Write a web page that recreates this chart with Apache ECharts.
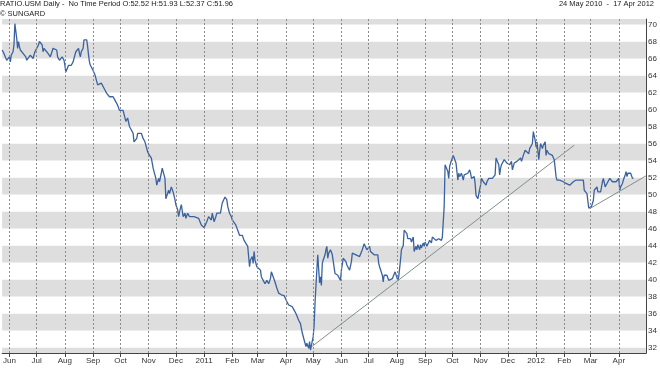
<!DOCTYPE html>
<html><head><meta charset="utf-8">
<script src="https://cdn.jsdelivr.net/npm/echarts@6/dist/echarts.min.js"></script>
<style>html,body{margin:0;padding:0;background:#fff}#c{width:660px;height:368px}</style>
</head><body><div id="c"></div>
<script>
// ---- data ----
const baseDate = [2010, 6, 1]; // day offsets are counted from 1 Jun 2010
const dayOffsets = [
-8,-6,-4,-3,-1,0,1,2,4,5,6,7,8,9,10,11,12,14,15,17,18,19,21,23,25,26,27,28,30,31,32,33,35,36,37,38,39,41,43,45,47,48,50,52,53,55,56,58,59,60,61,62,64,65,67,68,70,72,73,75,76,77,78,79,81,82,84,85,86,87,88,89,90,92,94,95,97,98,99,101,103,105,107,108,110,112,114,116,118,119,121,123,125,127,128,129,130,132,134,136,137,138,140,141,143,145,147,149,150,152,154,156,158,159,161,162,164,165,167,168,170,171,
172,174,175,176,178,179,180,182,183,185,186,188,189,190,191,193,194,196,198,200,203,205,208,209,211,214,216,217,219,220,222,223,225,227,228,230,232,234,236,237,239,240,242,244,245,247,249,251,253,255,256,258,260,262,263,264,265,267,268,269,270,272,274,276,277,279,281,283,285,287,288,290,292,294,296,297,299,302,304,305,307,309,311,313,315,316,318,320,322,324,325,326,327,329,330,331,333,334,335,336,337,338,339,340,341,342,343,344,345,347,348,349,
350,351,353,355,356,358,359,361,363,364,365,367,368,370,371,373,374,376,377,379,381,383,385,386,388,389,390,392,393,394,396,397,399,401,403,405,406,407,409,410,411,412,414,415,417,419,421,423,424,425,426,427,428,430,431,433,434,435,437,438,439,441,442,444,445,447,448,449,451,452,453,455,456,457,459,461,462,464,465,467,469,470,472,473,475,476,478,479,481,482,483,484,485,486,487,488,489,490,491,492,493,494,495,497,499,500,502,504,506,507,508,510,511,512,513,
515,517,518,519,521,522,524,525,527,529,531,533,534,535,536,538,539,540,541,543,544,546,547,549,550,552,553,555,557,558,560,562,563,565,567,568,569,571,572,574,575,576,578,579,580,581,582,583,584,586,587,589,590,591,593,595,597,599,600,601,602,604,605,607,609,611,612,614,616,618,620,621,623,625,627,629,631,632,633,635,636,637,638,639,640,642,643,644,646,647,649,650,652,653,654,655,657,658,660,661,663,665,667,668,670,671,672,674,675,677,678,679,680,682,683,685,686
];
const closeValues = [
67.0,66.6,66.8,65.8,65.6,66.2,65.6,66.4,66.8,67.6,70.1,70.1,68.4,67.2,68.0,67.4,67.0,67.2,66.6,66.8,66.2,65.8,66.0,66.4,66.6,66.0,66.2,66.8,67.2,67.0,67.6,68.0,68.2,67.6,66.8,67.2,67.0,66.8,66.7,66.2,66.4,67.2,67.3,67.0,66.2,65.8,65.6,66.2,66.4,65.8,65.2,64.4,64.6,65.2,65.4,65.2,65.6,65.8,66.8,67.0,67.2,66.6,66.2,66.8,67.2,68.2,68.3,68.2,67.4,66.4,65.6,65.2,65.0,64.6,64.1,63.7,62.9,62.7,63.1,63.1,62.7,62.3,61.9,61.7,61.5,61.7,61.5,61.1,60.9,60.5,59.9,60.1,59.9,59.7,58.6,58.4,59.0,58.0,57.8,57.2,56.2,56.0,56.6,57.2,57.4,57.2,56.6,56.2,55.8,55.0,54.6,54.3,53.1,52.7,51.9,51.1,51.9,51.5,52.5,53.1,52.9,51.9,
49.5,49.7,50.5,50.1,50.9,51.1,50.3,49.4,48.8,48.2,47.4,48.4,48.8,48.6,47.4,47.8,47.2,47.8,47.4,47.2,47.4,47.2,47.2,47.0,46.4,46.1,46.2,46.8,47.4,47.6,47.0,47.8,46.8,47.4,47.8,48.0,47.8,49.0,49.2,49.7,49.4,48.6,47.8,47.4,47.0,46.8,46.4,45.8,45.2,45.0,45.2,44.6,44.8,43.9,42.7,41.5,42.3,42.7,41.9,43.3,42.3,41.5,41.3,41.1,40.3,39.9,39.5,39.9,39.5,40.1,40.9,40.7,39.7,39.0,38.4,38.3,38.2,38.1,38.0,37.4,37.0,37.0,36.8,36.4,36.0,36.0,35.2,34.8,33.7,33.5,32.5,32.1,32.5,31.9,32.7,31.7,31.9,33.3,34.6,37.2,39.2,41.1,42.9,42.7,39.6,40.3,39.3,41.9,42.3,42.9,43.5,43.9,
42.5,43.1,43.5,42.9,42.7,40.7,40.5,40.5,40.3,39.9,41.1,42.5,42.7,42.1,41.7,41.5,41.1,42.1,43.1,42.9,42.9,42.9,42.7,42.5,43.5,43.7,44.2,44.4,43.5,43.7,43.9,43.3,43.5,42.9,42.9,42.9,41.9,41.5,41.3,40.5,39.7,40.5,40.3,40.5,39.9,39.9,40.1,40.3,40.9,41.1,40.7,39.9,40.3,42.3,43.5,44.0,45.8,45.9,45.4,44.8,44.6,44.8,44.4,45.0,43.3,43.9,43.5,44.1,43.5,44.1,43.7,44.3,43.9,44.4,43.9,43.7,44.6,44.3,45.0,44.8,44.6,44.6,44.8,45.0,44.6,45.0,48.6,53.5,53.5,52.7,51.9,53.3,53.7,53.9,54.3,54.6,54.3,54.1,53.7,52.7,51.7,52.5,52.1,52.5,51.7,52.3,52.1,52.5,52.9,52.5,51.9,51.7,52.1,51.3,49.9,
49.5,49.7,51.1,51.9,51.5,51.7,51.1,51.5,51.9,51.7,51.9,51.7,52.3,54.3,54.1,53.5,52.3,53.1,53.5,53.3,54.1,53.9,53.7,53.5,53.5,53.9,52.9,53.7,53.5,53.9,53.9,54.3,53.9,54.6,55.2,55.0,55.2,54.8,55.4,55.2,56.0,57.4,56.4,55.6,56.2,56.0,54.1,55.2,56.0,55.4,55.8,56.2,54.6,55.2,54.8,55.0,54.6,54.1,54.1,52.1,51.7,51.9,51.7,51.5,51.5,51.3,51.3,51.2,51.1,51.3,51.5,51.3,51.7,51.9,51.7,51.9,51.7,50.5,50.3,50.1,49.2,48.4,48.6,48.4,48.6,49.3,50.5,50.3,50.9,50.3,50.5,50.3,51.5,51.9,51.7,50.9,51.3,51.1,51.9,51.7,51.5,51.7,51.5,51.5,51.9,50.5,50.9,51.3,51.7,52.3,52.7,52.1,52.5,52.3,52.5,51.9,51.96
];
const trendA_days = [330, 621];
const trendA_values = [31.9, 55.8];
const trendB_days = [639, 700];
const trendB_values = [48.4, 52.2];
const monthStarts = ['2010-06','2010-07','2010-08','2010-09','2010-10','2010-11','2010-12','2011-01','2011-02','2011-03','2011-04','2011-05','2011-06','2011-07','2011-08','2011-09','2011-10','2011-11','2011-12','2012-01','2012-02','2012-03','2012-04'];
const monthLabels = ['Jun','Jul','Aug','Sep','Oct','Nov','Dec','2011','Feb','Mar','Apr','May','Jun','Jul','Aug','Sep','Oct','Nov','Dec','2012','Feb','Mar','Apr'];
const xStart = '2010-05-24', xEnd = '2012-05-01';
const yMin = 31.35, yMax = 70.65, yStep = 2;
const titleText = 'RATIO.USM Daily -  No Time Period O:52.52 H:51.93 L:52.37 C:51.96';
const sourceText = '\u00A9 SUNGARD';
const rangeText = '24 May 2010  -  17 Apr 2012';

// ---- build ----
const DAY = 86400000;
const base = Date.UTC(baseDate[0], baseDate[1]-1, baseDate[2]);
const toMs = d => base + d*DAY;
const parseYM = s => { const p = s.split('-').map(Number); return Date.UTC(p[0], p[1]-1, p[2]||1); };
const monthMs = monthStarts.map(parseYM);
const labelMap = {}; monthMs.forEach((m,i)=>labelMap[m]=monthLabels[i]);
const series = dayOffsets.map((d,i)=>[toMs(d), closeValues[i]]);
const font = 'Liberation Sans, Arial, Helvetica, sans-serif';

const chart = echarts.init(document.getElementById('c'), null, {renderer:'canvas'});
chart.setOption({
  animation: false,
  backgroundColor: '#ffffff',
  title: [
    {text: titleText, left: 0, top: 0, padding: 0, textStyle:{fontSize:7.5, fontWeight:'normal', color:'#222', fontFamily:font}},
    {text: sourceText, left: 0, top: 10, padding: 0, textStyle:{fontSize:7.5, fontWeight:'normal', color:'#222', fontFamily:font}},
    {text: rangeText, right: 6, top: 0, padding: 0, textStyle:{fontSize:7.5, fontWeight:'normal', color:'#222', fontFamily:font}}
  ],
  grid: {left: 0, right: 11, top: 19, bottom: 15, containLabel: false},
  xAxis: {
    type: 'value', min: parseYM(xStart), max: parseYM(xEnd), scale: true,
    axisLine: {show: true, onZero: false, lineStyle: {color: '#444', width: 1}},
    axisTick: {show: true, customValues: monthMs, length: 4, lineStyle: {color: '#444'}},
    axisLabel: {show: true, customValues: monthMs, formatter: v => labelMap[v] || '', fontSize: 8, color: '#333', fontFamily: font, margin: 4, hideOverlap: false},
    splitLine: {show: false}
  },
  yAxis: {
    type: 'value', position: 'right', min: yMin, max: yMax,
    splitNumber: 20, minInterval: yStep, maxInterval: yStep,
    axisLine: {show: true, lineStyle: {color: '#444', width: 1}},
    axisTick: {show: false},
    axisLabel: {show: true, showMinLabel: false, showMaxLabel: false, fontSize: 8, color: '#333', fontFamily: font, margin: 2,
      formatter: v => (Math.abs(v - Math.round(v)) < 1e-6 && Math.round(v) % yStep === 0) ? String(Math.round(v)) : ''},
    splitLine: {show: false},
    splitArea: {show: true, areaStyle: {color: ['#dedede', '#ffffff']}}
  },
  series: [
    {
      type: 'line', data: [], silent: true, z: 1,
      markLine: {silent: true, symbol: ['none','none'], animation: false,
        label: {show: false},
        lineStyle: {type: [2,2], color: '#8c8c8c', width: 1},
        data: monthMs.map(m => ({xAxis: m}))}
    },
    {
      type: 'line', z: 2, showSymbol: false, silent: true,
      data: trendA_days.map((d,i)=>[toMs(d), trendA_values[i]]),
      lineStyle: {color: '#7d918a', width: 1}
    },
    {
      type: 'line', z: 2, showSymbol: false, silent: true,
      data: trendB_days.map((d,i)=>[toMs(d), trendB_values[i]]),
      lineStyle: {color: '#7d918a', width: 1}
    },
    {
      type: 'line', z: 3, showSymbol: false, silent: true,
      data: series,
      lineStyle: {color: '#3a62a0', width: 1.3}
    }
  ]
});
</script></body></html>
